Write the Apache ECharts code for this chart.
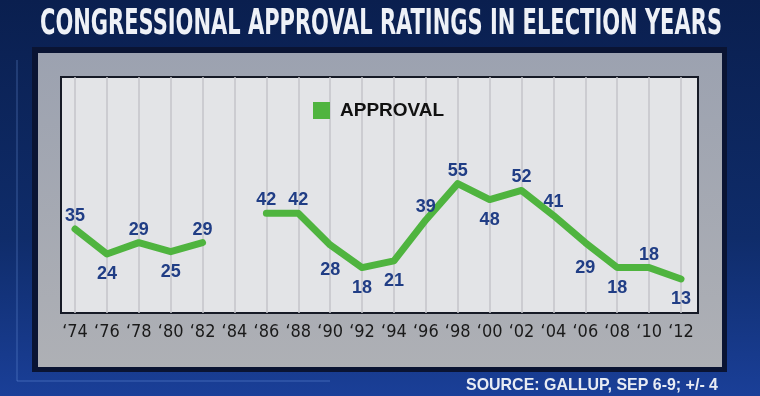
<!DOCTYPE html>
<html>
<head>
<meta charset="utf-8">
<script src="https://cdn.jsdelivr.net/npm/echarts@6/dist/echarts.min.js"></script>
<style>
html,body{margin:0;padding:0;background:#0c2454;}
#chart{width:760px;height:396px;}
</style>
</head>
<body>
<div id="chart"></div>
<script>
// ---- data ----
const titleText = 'CONGRESSIONAL APPROVAL RATINGS IN ELECTION YEARS';
const sourceText = 'SOURCE: GALLUP, SEP 6-9; +/- 4';
const seriesName = 'APPROVAL';
const years = ['\u201874','\u201876','\u201878','\u201880','\u201882','\u201884','\u201886','\u201888','\u201890','\u201892',
               '\u201894','\u201896','\u201898','\u201800','\u201802','\u201804','\u201806','\u201808','\u201810','\u201812'];
const approval = [35, 24, 29, 25, 29, null, 42, 42, 28, 18, 21, 39, 55, 48, 52, 41, 29, 18, 18, 13];

// ---- label placement (style, not data) ----
const labelSide = ['top','bottom','top','bottom','top','top','top','top','bottom','bottom',
                   'bottom','top','top','bottom','top','top','bottom','bottom','top','bottom'];
const labelGap  = [3, 10, 3, 10, 3, 3, 3, 3, 15, 10,
                   10, 3, 3, 10, 3, 3, 15, 10, 3, 10];

function fitScale(text, font, target) {
  const c = document.createElement('canvas').getContext('2d');
  c.font = font;
  const w = c.measureText(text).width;
  return target / w;
}

const GREEN = '#4fb43f';
const TITLE_FONT_FAMILY = '"Liberation Sans Narrow", "DejaVu Sans Condensed", "Liberation Sans", sans-serif';
const titleScale = fitScale(titleText, 'bold 36px ' + TITLE_FONT_FAMILY, 682);
const srcScale = fitScale(sourceText, 'bold 17px "Liberation Sans", sans-serif', 252);

const chart = echarts.init(document.getElementById('chart'), null, {renderer: 'canvas'});

const seriesData = approval.map((v, i) => v === null ? null : {
  value: v,
  label: {position: labelSide[i], distance: labelGap[i]}
});

chart.setOption({
  animation: false,
  backgroundColor: {
    type: 'linear', x: 0, y: 0, x2: 0, y2: 1,
    colorStops: [
      {offset: 0, color: '#0a1f4f'},
      {offset: 0.6, color: '#0f2c6a'},
      {offset: 1, color: '#1a3f98'}
    ]
  },
  graphic: [
    {type: 'polyline', z: 0, silent: true,
     shape: {points: [[17, 60], [17, 381], [330, 381]]},
     style: {stroke: 'rgba(110,150,225,0.45)', lineWidth: 1, fill: null}},
    {type: 'rect', z: 0, silent: true,
     shape: {x: 32, y: 47, width: 695, height: 325},
     style: {fill: '#0a1433'}},
    {type: 'rect', z: 0, silent: true,
     shape: {x: 38, y: 53, width: 684, height: 314},
     style: {fill: {type: 'linear', x: 0, y: 0, x2: 0, y2: 1,
       colorStops: [{offset: 0, color: '#9ca2b0'}, {offset: 1, color: '#aeb0b5'}]}}},
    {type: 'rect', z: 0, silent: true,
     shape: {x: 61, y: 77, width: 637, height: 236},
     style: {fill: '#e3e4e7', stroke: '#161a26', lineWidth: 2}},
    {type: 'text', z: 10, silent: true,
     x: 40, y: 25, scaleX: titleScale,
     style: {text: titleText, fontSize: 36, fontWeight: 'bold', fontFamily: TITLE_FONT_FAMILY,
             fill: '#eef1f7', align: 'left', verticalAlign: 'middle'}},
    {type: 'text', z: 10, silent: true,
     x: 466, y: 385, scaleX: srcScale,
     style: {text: sourceText, fontSize: 17, fontWeight: 'bold', fontFamily: '"Liberation Sans", sans-serif',
             fill: '#e8ecf4', align: 'left', verticalAlign: 'middle'}}
  ],
  legend: {
    show: true,
    data: [seriesName],
    left: 308, top: 96,
    icon: 'rect',
    itemWidth: 17, itemHeight: 17,
    z: 6,
    itemStyle: {color: GREEN, opacity: 1, borderWidth: 0},
    textStyle: {color: '#111111', fontSize: 19, fontWeight: 'bold',
                fontFamily: '"Liberation Sans", sans-serif', padding: [0, 0, 0, 5]}
  },
  grid: {left: 75, right: 79, top: 77, bottom: 83, containLabel: false},
  xAxis: {
    type: 'category',
    data: years,
    boundaryGap: false,
    z: 3,
    axisLine: {show: false},
    axisTick: {show: false},
    axisLabel: {color: '#1a1a1a', fontSize: 18, margin: 10, interval: 0,
                fontFamily: '"Liberation Sans Narrow", "DejaVu Sans Condensed", sans-serif'},
    splitLine: {show: true, interval: 0, lineStyle: {color: '#c4c5ca', width: 1.5}}
  },
  yAxis: {
    type: 'value', min: -2, max: 102, show: false,
    splitLine: {show: false}
  },
  series: [{
    name: seriesName,
    type: 'line',
    z: 4,
    data: seriesData,
    color: GREEN,
    connectNulls: false,
    showSymbol: true,
    symbol: 'circle',
    symbolSize: 2,
    itemStyle: {color: 'rgba(0,0,0,0)', borderWidth: 0},
    lineStyle: {color: GREEN, width: 7, cap: 'round', join: 'round'},
    label: {
      show: true,
      color: '#203d85',
      fontSize: 18,
      fontWeight: 'bold',
      fontFamily: '"Liberation Sans", sans-serif'
    }
  }]
});
</script>
</body>
</html>
